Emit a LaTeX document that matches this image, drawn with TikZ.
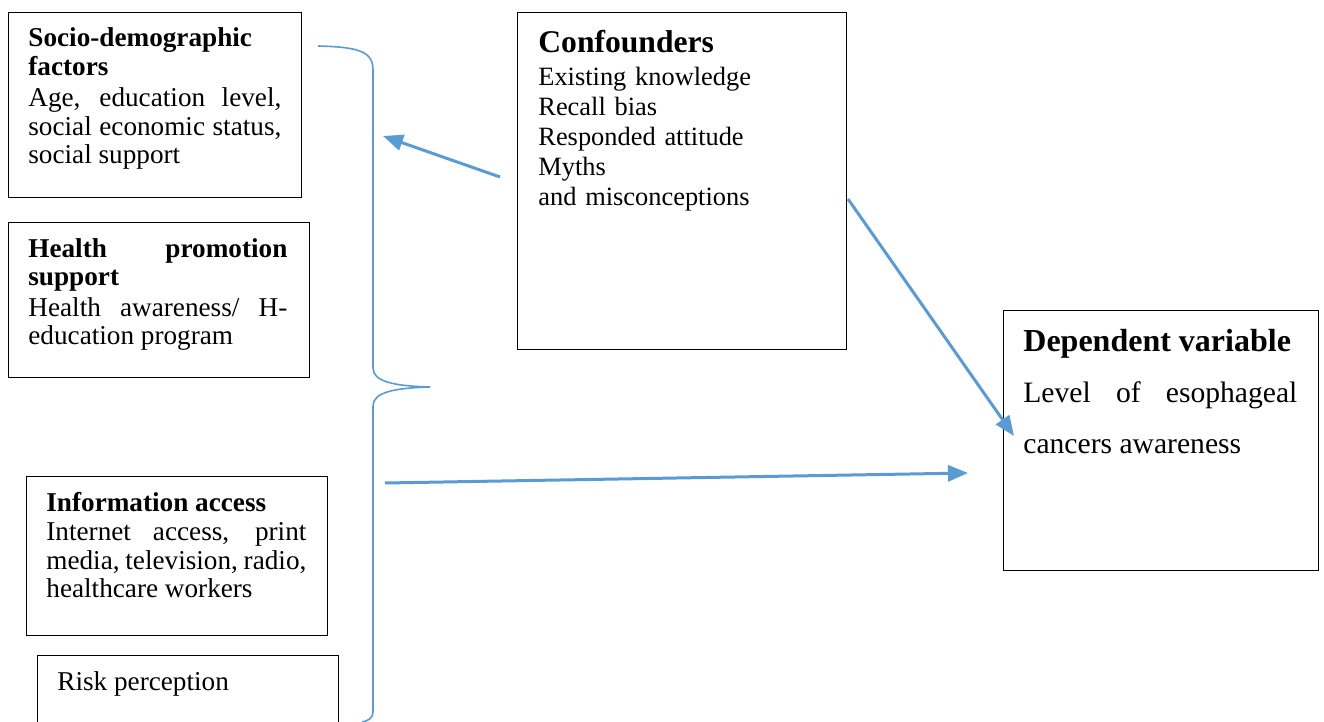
\documentclass[tikz,border=0pt]{standalone}
\usepackage{fontspec}
\setmainfont{Liberation Serif}
\usepackage{tikz}
\usetikzlibrary{arrows.meta}
\definecolor{wordblue}{HTML}{5B9BD5}
\tikzstyle{box}   = [rectangle, draw=black, line width=0.6pt, anchor=north west, inner sep=0pt]
\tikzstyle{txt}   = [anchor=base west, inner sep=0pt, align=justify, font=\fontsize{13.6}{14.3}\selectfont]
\tikzstyle{arrow} = [line width=1.5pt, draw=wordblue, -{Triangle[length=10pt,width=8pt,fill=wordblue]}]
\tikzstyle{brace} = [line width=0.8pt, draw=wordblue]
\begin{document}
\begin{tikzpicture}[x=0.5pt, y=-0.5pt]
      \clip (0,0) rectangle (1324,722);

      % left hand boxes
      \node (SD) [box, minimum width=146.5pt, minimum height=92.5pt] at (8,12) {};
      \node (HP) [box, minimum width=150.5pt, minimum height=77.5pt] at (8,222) {};
      \node (IA) [box, minimum width=150.5pt, minimum height=79.5pt] at (26,476) {};
      \node (RP) [box, minimum width=150.5pt, minimum height=60pt] at (37,655) {};

      \node (SDt) [txt, text width=126.5pt] at (28,47)
        {\textbf{Socio-demographic}\\ \textbf{factors}\\[1.2pt] Age, education level,\linebreak social economic status,\linebreak social support};
      \node (HPt) [txt, text width=129.5pt] at (28,257)
        {\textbf{Health promotion}\linebreak \textbf{support}\\[1pt] Health awareness/ H-\linebreak education program};
      \node (IAt) [txt, text width=130pt] at (46,511)
        {\textbf{Information access}\\[0.5pt] Internet access, print\linebreak media, television, radio,\linebreak healthcare workers};
      \node (RPt) [txt, text width=130pt] at (57,690) {Risk perception};

      % confounders and outcome
      \node (CF) [box, minimum width=164.5pt, minimum height=168.5pt] at (517,12) {};
      \node (DV) [box, minimum width=157.5pt, minimum height=130pt] at (1003,310) {};

      \node (CFh) [txt, font=\fontsize{15.8}{15}\selectfont\bfseries] at (538,53) {Confounders};
      \node (CFt) [txt, text width=150pt, align=left, font=\fontsize{13.2}{15}\selectfont] at (538,86)
        {Existing knowledge\\ Recall bias\\ Responded attitude\\ Myths\\ and misconceptions};
      \node (DVt) [txt, text width=137pt, font=\fontsize{14.8}{25.5}\selectfont] at (1023,351)
        {{\fontsize{16}{25.5}\selectfont\bfseries Dependent variable}\\ Level of esophageal\linebreak cancers awareness};

      % brace
      \coordinate (tip) at (430,387);
      \draw [brace] (318,46) .. controls (360,47) and (373,52) .. (373,70) -- (373,368)
        .. controls (373,382) and (395,386) .. (tip)
        .. controls (395,388) and (373,392) .. (373,406) -- (373,712)
        .. controls (373,718) and (368,721) .. (362,722);

      % arrows
      \coordinate (CFa) at (500,177);
      \coordinate (SDa) at (383,136);
      \coordinate (CFb) at (848,199);
      \coordinate (DVa) at (1014,436);
      \coordinate (IAa) at (385,483);
      \coordinate (DVb) at (968,473);

      \draw [arrow] (CFa) -- (SDa);
      \draw [arrow] (CFb) -- (DVa);
      \draw [arrow] (IAa) -- (DVb);

    \end{tikzpicture}
\end{document}
